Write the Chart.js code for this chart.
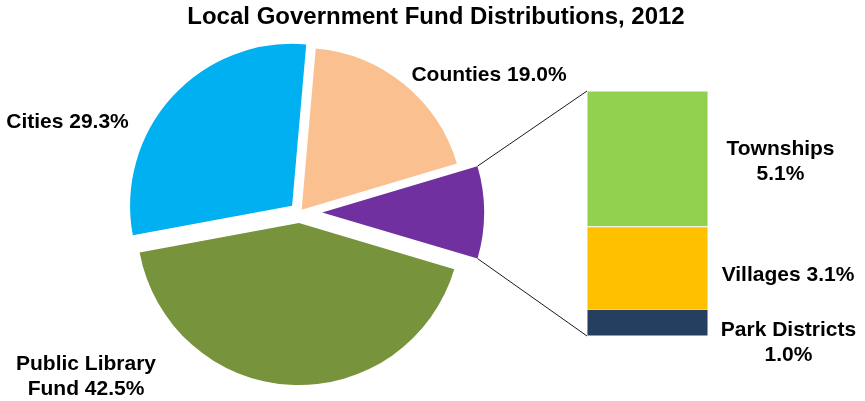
<!DOCTYPE html>
<html lang="en">
<head>
  <meta charset="UTF-8" />
  <title>Local Government Fund Distributions, 2012</title>
  <script src="https://cdn.jsdelivr.net/npm/chart.js@4.4.1/dist/chart.umd.min.js"></script>
  <style>
    body{margin:0;background:#fff;}
    .wrap{position:relative;width:865px;height:401px;}
    #pie{position:absolute;left:0;top:0;}
    #bar{position:absolute;left:587px;top:91px;}
  </style>
</head>
<body>
  <div class="wrap">
    <canvas id="pie" width="865" height="401"></canvas>
    <canvas id="bar" width="121" height="245"></canvas>
  </div>

  <script>
    const TITLE = 'Local Government Fund Distributions, 2012';

    // main pie, clockwise starting just right of 12 o'clock
    const pieLabels = ['Counties', 'Other', 'Public Library Fund', 'Cities'];
    const pieValues = [19.0, 9.2, 42.5, 29.3];
    const pieColors = ['#FAC090', '#7030A0', '#77933C', '#00B0F0'];

    // breakdown of the "Other" slice, stacked bottom to top
    const barLabels = ['Park Districts', 'Villages', 'Townships'];
    const barValues = [1.0, 3.1, 5.1];
    const barColors = ['#243F60', '#FFC000', '#92D050'];

    const explode = [3.4, 22.7, 10.6, 10];   // px each slice is pulled out
    const FONT = '"Liberation Sans", Arial, sans-serif';

    // words on the first line of a label (0 = single line), and where it sits
    const pieWrap = [0, 0, 2, 0];
    const pieLabelAt = [[489, 81], null, [86, 370], [67.5, 127.5]];
    const barWrap = [2, 0, 1];
    const barLabelAt = [[788.5, 336], [788, 281], [780.5, 155]];
    const LINE_H = 24.8;

    const pct = (name, v) => `${name} ${v.toFixed(1)}%`;
    function wrapText(text, n){
      if(!n) return [text];
      const w = text.split(' ');
      return [w.slice(0, n).join(' '), w.slice(n).join(' ')];
    }

    const barChart = new Chart(document.getElementById('bar'), {
      type: 'bar',
      data: {
        labels: ['Other'],
        datasets: barLabels.map((name, i) => ({
          label: name,
          data: [barValues[i]],
          backgroundColor: barColors[i],
          borderColor: '#fff',
          borderWidth: 0.8,
          borderSkipped: false,
          barPercentage: 1,
          categoryPercentage: 1
        }))
      },
      options: {
        responsive: false,
        animation: false,
        plugins: {legend: {display: false}, tooltip: {enabled: false}},
        scales: {
          x: {stacked: true, display: false},
          y: {stacked: true, display: false, min: 0, max: pieValues[1]}
        }
      }
    });

    // draw each arc shifted outward along its own bisector
    const explodeSlices = {
      id: 'explodeSlices',
      beforeDatasetDraw(chart, args){
        const ctx = chart.ctx;
        args.meta.data.forEach((arc, i) => {
          const mid = (arc.startAngle + arc.endAngle) / 2;
          ctx.save();
          ctx.translate(Math.cos(mid) * explode[i], Math.sin(mid) * explode[i]);
          arc.draw(ctx);
          ctx.restore();
        });
        return false;
      }
    };

    // lines from the "Other" slice to the breakdown bar
    const connectors = {
      id: 'connectors',
      afterDatasetsDraw(chart){
        const arc = chart.getDatasetMeta(0).data[1];
        const {x, y, startAngle, endAngle, outerRadius} = arc.getProps(['x','y','startAngle','endAngle','outerRadius'], true);
        const mid = (startAngle + endAngle) / 2;
        const dx = Math.cos(mid) * explode[1], dy = Math.sin(mid) * explode[1];

        const top = barChart.getDatasetMeta(2).data[0];
        const bot = barChart.getDatasetMeta(0).data[0];
        const ox = barChart.canvas.offsetLeft, oy = barChart.canvas.offsetTop;
        const left = ox + bot.x - bot.width / 2;

        const ctx = chart.ctx;
        ctx.save();
        ctx.strokeStyle = '#1a1a1a';
        ctx.lineWidth = 1;
        ctx.beginPath();
        ctx.moveTo(x + dx + Math.cos(startAngle) * outerRadius, y + dy + Math.sin(startAngle) * outerRadius);
        ctx.lineTo(left, oy + top.y);
        ctx.moveTo(x + dx + Math.cos(endAngle) * outerRadius, y + dy + Math.sin(endAngle) * outerRadius);
        ctx.lineTo(left, oy + bot.base);
        ctx.stroke();
        ctx.restore();
      },
      afterDraw(chart){
        const ctx = chart.ctx;
        ctx.save();
        ctx.fillStyle = '#000';
        ctx.textAlign = 'center';
        ctx.textBaseline = 'alphabetic';

        ctx.font = `bold 24px ${FONT}`;
        ctx.fillText(TITLE, 436, 23.5);

        ctx.font = `bold 21px ${FONT}`;
        const put = (lines, [lx, ly]) =>
          lines.forEach((s, k) => ctx.fillText(s, lx, ly + k * LINE_H));

        pieLabels.forEach((name, i) => {
          if(pieLabelAt[i]) put(wrapText(pct(name, pieValues[i]), pieWrap[i]), pieLabelAt[i]);
        });
        barLabels.forEach((name, i) => put(wrapText(pct(name, barValues[i]), barWrap[i]), barLabelAt[i]));
        ctx.restore();
      }
    };

    new Chart(document.getElementById('pie'), {
      type: 'pie',
      data: {
        labels: pieLabels,
        datasets: [{
          data: pieValues,
          backgroundColor: pieColors,
          borderWidth: 0
        }]
      },
      options: {
        responsive: false,
        animation: false,
        rotation: 5,
        radius: 162,
        layout: {padding: {left: 0, right: 266, top: 24, bottom: 0}},
        plugins: {legend: {display: false}, tooltip: {enabled: false}}
      },
      plugins: [explodeSlices, connectors]
    });
  </script>
</body>
</html>
